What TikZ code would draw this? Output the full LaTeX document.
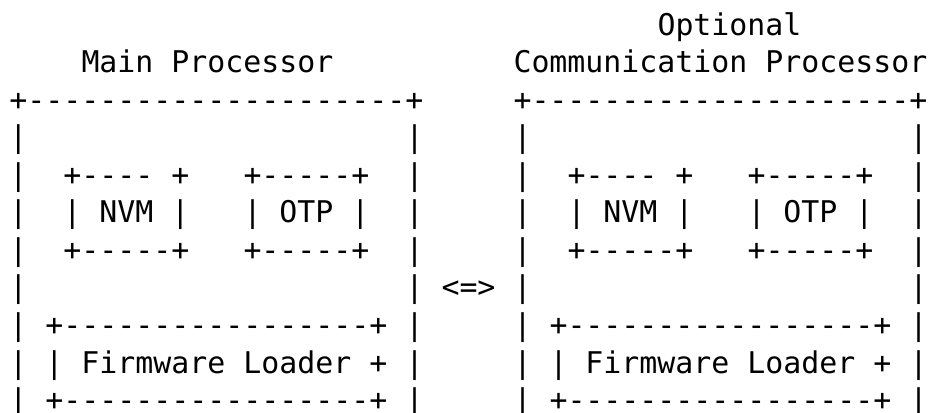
\documentclass[tikz,border=0pt]{standalone}
\usepackage{fontspec}
\setmonofont{DejaVu Sans Mono}

\begin{document}
\begin{tikzpicture}[x=13.5pt,y=-28.125pt,
        every node/.style={anchor=base west,inner sep=0pt,outer sep=0pt,
            font=\ttfamily\fontsize{22.42pt}{28.125pt}\selectfont}]
                \useasboundingbox(-7.125pt,-1.5pt)rectangle(688.875pt,-311.25pt);
                \node(opt)at(36, 1){Optional};
                \node(main)at(4, 2){Main Processor};
                \node(comm)at(28, 2){Communication Processor};
                \node(link)at(24, 8){<=>};
                % both processor boxes, column offset / name prefix
                \foreach \cx/\nm in {0/main,28/comm}{
                    \node(\nm-top)at(\cx, 3){+---------------------+};
                    \foreach \r in {4,...,11}{
                        \node(\nm-l\r)at(\cx, \r){|};
                        \node(\nm-r\r)at(\cx+22, \r){|};
                    }
                    \node(\nm-nvmtop)at(\cx+3, 5){+---- +};
                    \node(\nm-nvm)at(\cx+3, 6){| NVM |};
                    \node(\nm-nvmbot)at(\cx+3, 7){+-----+};
                    \node(\nm-otptop)at(\cx+13, 5){+-----+};
                    \node(\nm-otp)at(\cx+13, 6){| OTP |};
                    \node(\nm-otpbot)at(\cx+13, 7){+-----+};
                    \node(\nm-fwtop)at(\cx+2, 9){+-----------------+};
                    \node(\nm-fw)at(\cx+2, 10){| Firmware Loader +};
                    \node(\nm-fwbot)at(\cx+2, 11){+-----------------+};
                }
            \end{tikzpicture}
\end{document}
